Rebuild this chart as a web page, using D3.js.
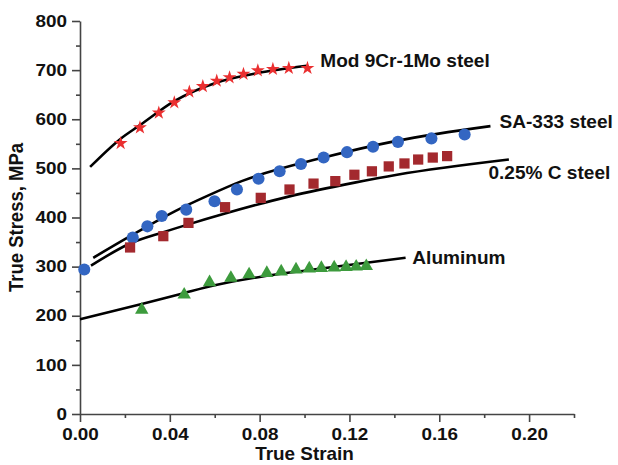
<!DOCTYPE html>
<html>
<head>
<meta charset="utf-8">
<script src="https://cdn.jsdelivr.net/npm/d3@7"></script>
<style>
  body { margin: 0; background: #fff; }
  svg { display: block; font-family: "Liberation Sans", Arial, sans-serif; font-weight: bold; }
  .stretch { transform-box: fill-box; transform: scaleX(1.18); }
  .stretch-label { transform-box: fill-box; transform: scaleX(1.09); transform-origin: left center; }
  .axis path, .axis line { stroke: #444; stroke-width: 1.6; }
  .axis text { fill: #111; font-size: 16px; font-weight: bold; font-family: "Liberation Sans", Arial, sans-serif; }
</style>
</head>
<body>
<svg id="chart" width="618" height="465"></svg>
<script>
// tick values
const xTicks = [0, 0.04, 0.08, 0.12, 0.16, 0.20];
const xMinor = [0.02, 0.06, 0.10, 0.14, 0.18, 0.22];
const yTicks = [0, 100, 200, 300, 400, 500, 600, 700, 800];
const yMinor = [50, 150, 250, 350, 450, 550, 650, 750];

// measured points (true strain, true stress MPa)
const mod9Strain = [0.0181, 0.0267, 0.0351, 0.042, 0.0487, 0.0547, 0.0609, 0.0666, 0.0728, 0.0792, 0.0859, 0.093, 0.1013];
const mod9Stress = [551, 583, 613, 634, 656, 667, 678, 685, 692, 699, 702, 704, 704];

const sa333Strain = [0.0019, 0.0235, 0.030, 0.0364, 0.0473, 0.0599, 0.0699, 0.0795, 0.0889, 0.0984, 0.1085, 0.1189, 0.1305, 0.1416, 0.1565, 0.1713];
const sa333Stress = [294, 359, 382, 403, 416, 433, 457, 479, 494, 509, 522, 533, 544, 554, 561, 569];

const cSteelStrain = [0.0223, 0.0371, 0.0483, 0.0646, 0.0805, 0.0933, 0.104, 0.1137, 0.1222, 0.130, 0.1375, 0.1445, 0.1506, 0.1571, 0.1635];
const cSteelStress = [339, 362, 389, 421, 440, 457, 469, 474, 487, 494, 504, 510, 518, 522, 525];

const alStrain = [0.0275, 0.0464, 0.0577, 0.0672, 0.0753, 0.0832, 0.0896, 0.0962, 0.1021, 0.1075, 0.1132, 0.1185, 0.123, 0.1275];
const alStress = [212, 243, 268, 277, 284, 287, 290, 294, 296, 297, 298, 299, 300, 301];

// fitted curves
const mod9FitStrain = [0.0045, 0.018, 0.0267, 0.042, 0.061, 0.079, 0.101];
const mod9FitStress = [503, 560, 588, 637, 675, 694, 709];
const sa333FitStrain = [0.0059, 0.0235, 0.0424, 0.0572, 0.072, 0.1085, 0.141, 0.1828];
const sa333FitStress = [318, 365, 413, 445, 474, 522, 556, 586];
const cSteelFitStrain = [0.0049, 0.0223, 0.0371, 0.0483, 0.0646, 0.0933, 0.1223, 0.1412, 0.191];
const cSteelFitStress = [302, 347, 370, 386, 408, 443, 471, 487, 518];
const alFitStrain = [0, 0.0275, 0.0453, 0.06, 0.08, 0.104, 0.145];
const alFitStress = [193, 224, 245, 262, 279, 294, 318];

const labels = ["Mod 9Cr-1Mo steel", "SA-333 steel", "0.25% C steel", "Aluminum"];
const labelStrain = [0.107, 0.1868, 0.1819, 0.148];
const labelStress = [718, 594, 490, 318];

const zip = (xs, ys) => xs.map((x, i) => ({ x: x, y: ys[i] }));

const series = [
  { pts: zip(mod9Strain, mod9Stress), fit: zip(mod9FitStrain, mod9FitStress), symbol: d3.symbolStar, size: 60, color: "#ea2f30" },
  { pts: zip(sa333Strain, sa333Stress), fit: zip(sa333FitStrain, sa333FitStress), symbol: d3.symbolCircle, size: 115, color: "#3366c2" },
  { pts: zip(cSteelStrain, cSteelStress), fit: zip(cSteelFitStrain, cSteelFitStress), symbol: d3.symbolSquare, size: 105, color: "#a3292e" },
  { pts: zip(alStrain, alStress), fit: zip(alFitStrain, alFitStress), symbol: d3.symbolTriangle, size: 78, color: "#3d9b3d" }
];

const svg = d3.select("#chart");
const x = d3.scaleLinear().domain([0, 0.22]).range([80, 574]);
const y = d3.scaleLinear().domain([0, 800]).range([414, 21]);

// minor ticks
svg.append("g").attr("class", "axis").attr("transform", "translate(0,414)")
  .call(d3.axisBottom(x).tickValues(xMinor).tickSize(4).tickFormat(""))
  .select(".domain").remove();
svg.append("g").attr("class", "axis").attr("transform", "translate(80,0)")
  .call(d3.axisLeft(y).tickValues(yMinor).tickSize(4).tickFormat(""))
  .select(".domain").remove();

// major axes
const xAxis = svg.append("g").attr("class", "axis").attr("transform", "translate(0,414)")
  .call(d3.axisBottom(x).tickValues(xTicks).tickSize(8).tickSizeOuter(0).tickPadding(7).tickFormat(d3.format(".2f")));
xAxis.selectAll("text").attr("class", "stretch").style("transform-origin", "center");

const yAxis = svg.append("g").attr("class", "axis").attr("transform", "translate(80,0)")
  .call(d3.axisLeft(y).tickValues(yTicks).tickSize(8).tickSizeOuter(0).tickPadding(5));
yAxis.selectAll("text").attr("class", "stretch").style("transform-origin", "right center");

// axis titles
svg.append("text")
  .attr("class", "stretch")
  .style("transform", "scaleX(1.08)")
  .style("transform-origin", "center")
  .attr("x", x(0.1))
  .attr("y", 460)
  .attr("text-anchor", "middle")
  .attr("font-size", 17.5)
  .attr("fill", "#111")
  .text("True Strain");

svg.append("g")
  .attr("transform", "translate(23," + y(400) + ") rotate(-90) scale(1,1.12)")
  .append("text")
  .attr("text-anchor", "middle")
  .attr("font-size", 18.5)
  .attr("fill", "#111")
  .text("True Stress, MPa");

// fitted lines
const line = d3.line().x(d => x(d.x)).y(d => y(d.y)).curve(d3.curveMonotoneX);
svg.append("g").selectAll("path")
  .data(series)
  .join("path")
  .attr("d", d => line(d.fit))
  .attr("fill", "none")
  .attr("stroke", "#000")
  .attr("stroke-width", 2.6);

// markers
series.forEach(s => {
  svg.append("g").selectAll("path")
    .data(s.pts)
    .join("path")
    .attr("transform", d => "translate(" + x(d.x) + "," + y(d.y) + ")")
    .attr("d", d3.symbol().type(s.symbol).size(s.size))
    .attr("fill", s.color);
});

// series labels
svg.append("g").selectAll("text")
  .data(labels)
  .join("text")
  .attr("class", "stretch-label")
  .attr("x", (d, i) => x(labelStrain[i]))
  .attr("y", (d, i) => y(labelStress[i]))
  .attr("dominant-baseline", "central")
  .attr("font-size", 17.5)
  .attr("fill", "#111")
  .text(d => d);
</script>
</body>
</html>
